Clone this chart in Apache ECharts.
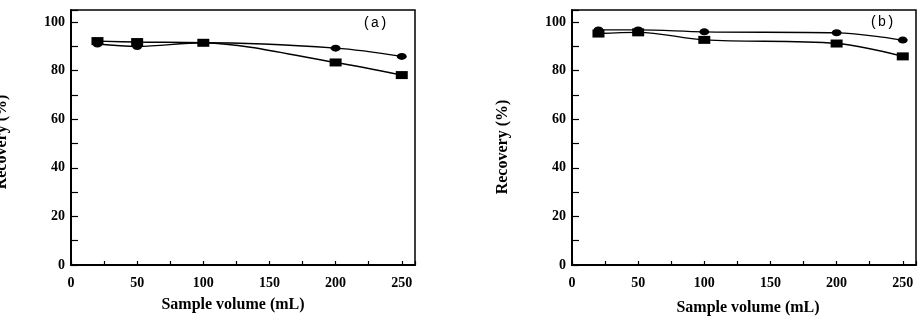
<!DOCTYPE html>
<html><head><meta charset="utf-8">
<script src="https://cdn.jsdelivr.net/npm/echarts@6/dist/echarts.min.js"></script>
<style>html,body{margin:0;padding:0;background:#fff}#c{width:919px;height:316px}</style>
</head><body><div id="c"></div>
<script>
// Sample volumes (mL)
const volumes = [20, 50, 100, 200, 250];
// Panel (a)
const aCircle = [91.0, 90.0, 91.5, 89.3, 85.9];
const aSquare = [92.2, 91.8, 91.5, 83.4, 78.2];
// Panel (b)
const bCircle = [96.8, 96.8, 96.0, 95.6, 92.6];
const bSquare = [95.3, 95.8, 92.7, 91.2, 85.9];
const panelLabels = ['(a)', '(b)'];
const xName = 'Sample volume (mL)';
const yName = 'Recovery (%)';

const serif = 'Liberation Serif';
const chart = echarts.init(document.getElementById('c'));
const grids = [
  {left: 71, top: 10, width: 344, height: 255},
  {left: 572, top: 10, width: 344, height: 255}
];
function xAx(i){
  return {gridIndex:i, type:'value', min:0, max:260, interval:25,
    axisLine:{show:true, lineStyle:{color:'#000', width:2}},
    axisTick:{show:true, inside:true, length:4, lineStyle:{color:'#000', width:1.2}},
    axisLabel:{margin:11, color:'#000', fontFamily:serif, fontWeight:'bold', fontSize:14,
      formatter: v => (v % 50 === 0 ? String(v) : '')},
    splitLine:{show:false}};
}
function yAx(i){
  return {gridIndex:i, type:'value', min:0, max:105, interval:10,
    axisLine:{show:true, lineStyle:{color:'#000', width:2}},
    axisTick:{show:true, inside:true, length:7, lineStyle:{color:'#000', width:1.2}},
    axisLabel:{margin:6, color:'#000', fontFamily:serif, fontWeight:'bold', fontSize:14,
      formatter: v => (v % 20 === 0 && v <= 100 ? String(v) : '')},
    splitLine:{show:false}};
}
function ser(i, vals, sym, size){
  return {type:'line', xAxisIndex:i, yAxisIndex:i, smooth:0.35,
    data: volumes.map((v,k)=>[v, vals[k]]),
    symbol: sym, symbolSize: size, showSymbol:true,
    itemStyle:{color:'#000'}, lineStyle:{color:'#000', width:1.4}, z:3};
}
function txt(x, y, text, size, font, rot, weight){
  return {type:'text', x:x, y:y, rotation: rot||0, z:10,
    style:{text:text, x:0, y:0, align:'center', verticalAlign:'middle',
      font: (weight||'bold') + ' ' + size + 'px "' + font + '"', fill:'#000'}};
}
chart.setOption({
  animation:false,
  grid: grids.map(g => Object.assign({show:true, borderColor:'#000', borderWidth:1.5, backgroundColor:'#fff'}, g)),
  xAxis:[xAx(0), xAx(1)],
  yAxis:[yAx(0), yAx(1)],
  series:[
    ser(0, aSquare, 'rect', [12,8]),
    ser(0, aCircle, 'circle', [10,7]),
    ser(1, bSquare, 'rect', [12,8]),
    ser(1, bCircle, 'circle', [10,7])
  ],
  graphic:[
    txt(233, 305, xName, 16, serif),
    txt(748, 308, xName, 16, serif),
    txt(2, 142, yName, 16, serif, Math.PI/2),
    txt(503, 147, yName, 16, serif, Math.PI/2),
    txt(375, 23, panelLabels[0], 14, 'Liberation Mono', 0, 'normal'),
    txt(882, 22, panelLabels[1], 14, 'Liberation Mono', 0, 'normal')
  ]
});
</script></body></html>
